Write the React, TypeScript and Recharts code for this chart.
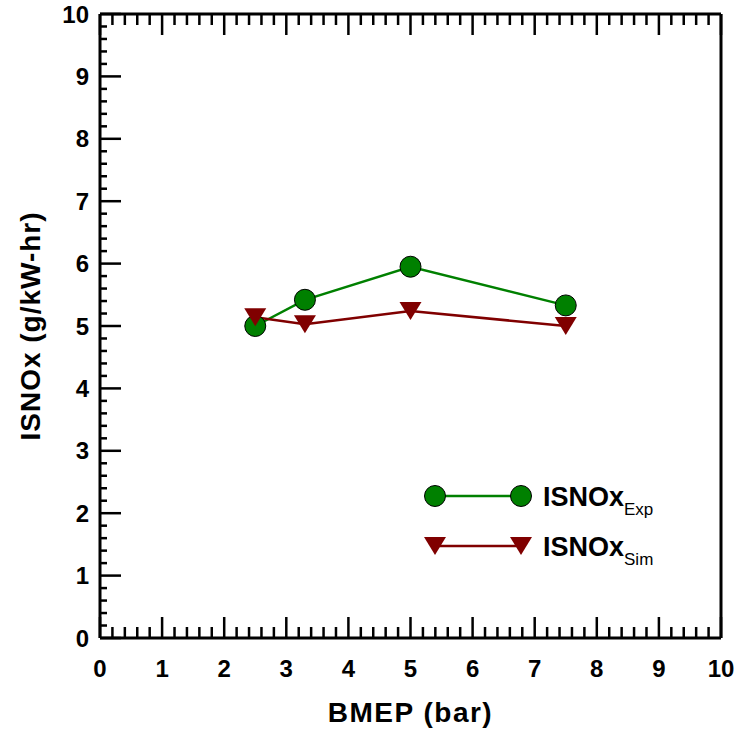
import { Legend, Line, LineChart, XAxis, YAxis } from "recharts";

const bmep = [2.5, 3.3, 5, 7.5];
const isnoxExp = [5.0, 5.42, 5.95, 5.33];
const isnoxSim = [5.14, 5.03, 5.24, 5.0];

const xTicks = Array.from({ length: 51 }, (_, i) => i / 5);
const yLeftTicks = Array.from({ length: 51 }, (_, i) => i / 5);
const yRightTicks = Array.from({ length: 21 }, (_, i) => i / 2);

const data = bmep.map((b, i) => ({ bmep: b, exp: isnoxExp[i], sim: isnoxSim[i] }));

const FONT = "'Liberation Sans', Arial, sans-serif";
const GREEN = "#008000";
const RED = "#800000";

const isMajor = (v: number) => Math.abs(v - Math.round(v)) < 1e-6;

function BottomTick({ x, y, payload }: any) {
  const major = isMajor(payload.value);
  return (
    <g>
      <line x1={x} y1={y} x2={x} y2={y - (major ? 21 : 11)} stroke="#000" strokeWidth={2.5} />
      {major && (
        <text x={x} y={y + 39} textAnchor="middle" fontFamily={FONT} fontWeight="bold" fontSize={24} fill="#000">
          {Math.round(payload.value)}
        </text>
      )}
    </g>
  );
}

function TopTick({ x, y, payload }: any) {
  const major = isMajor(payload.value);
  return <line x1={x} y1={y} x2={x} y2={y + (major ? 21 : 11)} stroke="#000" strokeWidth={2.5} />;
}

function LeftTick({ x, y, payload }: any) {
  const major = isMajor(payload.value);
  return (
    <g>
      <line x1={x} y1={y} x2={x + (major ? 21 : 7)} y2={y} stroke="#000" strokeWidth={2.5} />
      {major && (
        <text x={x - 11} y={y + 8.5} textAnchor="end" fontFamily={FONT} fontWeight="bold" fontSize={24} fill="#000">
          {Math.round(payload.value)}
        </text>
      )}
    </g>
  );
}

function RightTick({ x, y, payload }: any) {
  const major = isMajor(payload.value);
  return <line x1={x} y1={y} x2={x - (major ? 21 : 11)} y2={y} stroke="#000" strokeWidth={2.5} />;
}

function CircleDot({ cx, cy }: any) {
  if (cx == null || cy == null) return null;
  return <circle cx={cx} cy={cy} r={10.5} fill={GREEN} stroke="#000" strokeWidth={1} />;
}

function TriangleDot({ cx, cy }: any) {
  if (cx == null || cy == null) return null;
  return <polygon points={`${cx - 11},${cy - 9} ${cx + 11},${cy - 9} ${cx},${cy + 9}`} fill={RED} />;
}

function LegendBox({ payload }: any) {
  const items = payload || [];
  return (
    <svg width={300} height={100}>
      {items.map((item: any, i: number) => {
        const cy = 21 + i * 50;
        const isExp = item.dataKey === "exp";
        const color = isExp ? GREEN : RED;
        return (
          <g key={item.dataKey}>
            <line x1={15} y1={cy} x2={101} y2={cy} stroke={color} strokeWidth={2.5} />
            {isExp ? (
              <>
                <CircleDot cx={15} cy={cy} />
                <CircleDot cx={101} cy={cy} />
              </>
            ) : (
              <>
                <TriangleDot cx={15} cy={cy} />
                <TriangleDot cx={101} cy={cy} />
              </>
            )}
            <text x={123} y={cy + 10} fontFamily={FONT} fill="#000">
              <tspan fontWeight="bold" fontSize={27}>ISNOx</tspan>
              <tspan fontSize={17} dy={9}>{isExp ? "Exp" : "Sim"}</tspan>
            </text>
          </g>
        );
      })}
    </svg>
  );
}

export default function App() {
  return (
    <div style={{ position: "absolute", left: 0, top: 0, background: "#fff" }}>
      <LineChart width={738} height={735} data={data} margin={{ top: 13, right: 16, bottom: 0, left: 40 }}>
        <XAxis
          xAxisId="bottom"
          dataKey="bmep"
          type="number"
          domain={[0, 10]}
          ticks={xTicks}
          interval={0}
          tickSize={0}
          tickMargin={0}
          tickLine={false}
          height={97}
          axisLine={{ stroke: "#000", strokeWidth: 3 }}
          tick={<BottomTick />}
          label={{
            content: ({ viewBox }: any) => (
              <text
                x={viewBox.x + viewBox.width / 2}
                y={722}
                textAnchor="middle"
                fontFamily={FONT}
                fontWeight="bold"
                fontSize={28}
                letterSpacing={1.5}
                fill="#000"
              >
                BMEP (bar)
              </text>
            ),
          }}
        />
        <XAxis
          xAxisId="top"
          orientation="top"
          dataKey="bmep"
          type="number"
          domain={[0, 10]}
          ticks={xTicks}
          interval={0}
          tickSize={0}
          tickMargin={0}
          tickLine={false}
          height={1}
          axisLine={{ stroke: "#000", strokeWidth: 3 }}
          tick={<TopTick />}
        />
        <YAxis
          yAxisId="left"
          type="number"
          domain={[0, 10]}
          ticks={yLeftTicks}
          interval={0}
          tickSize={0}
          tickMargin={0}
          tickLine={false}
          width={60}
          axisLine={{ stroke: "#000", strokeWidth: 3 }}
          tick={<LeftTick />}
          label={{
            content: ({ viewBox }: any) => {
              const cx = 30;
              const cy = viewBox.y + viewBox.height / 2;
              return (
                <text
                  x={cx}
                  y={cy}
                  transform={`rotate(-90 ${cx} ${cy})`}
                  textAnchor="middle"
                  dominantBaseline="central"
                  fontFamily={FONT}
                  fontWeight="bold"
                  fontSize={28}
                  letterSpacing={1}
                  fill="#000"
                >
                  ISNOx (g/kW-hr)
                </text>
              );
            },
          }}
        />
        <YAxis
          yAxisId="right"
          orientation="right"
          type="number"
          domain={[0, 10]}
          ticks={yRightTicks}
          interval={0}
          tickSize={0}
          tickMargin={0}
          tickLine={false}
          width={1}
          axisLine={{ stroke: "#000", strokeWidth: 3 }}
          tick={<RightTick />}
        />
        <Line
          xAxisId="bottom"
          yAxisId="left"
          type="linear"
          dataKey="exp"
          name="ISNOx Exp"
          stroke={GREEN}
          strokeWidth={2.5}
          dot={<CircleDot />}
          activeDot={false}
          isAnimationActive={false}
        />
        <Line
          xAxisId="bottom"
          yAxisId="left"
          type="linear"
          dataKey="sim"
          name="ISNOx Sim"
          stroke={RED}
          strokeWidth={2.5}
          dot={<TriangleDot />}
          activeDot={false}
          isAnimationActive={false}
        />
        <Legend
          layout="vertical"
          align="center"
          verticalAlign="middle"
          wrapperStyle={{ left: 420, top: 475, width: 300, height: 100 }}
          content={<LegendBox />}
        />
      </LineChart>
    </div>
  );
}
